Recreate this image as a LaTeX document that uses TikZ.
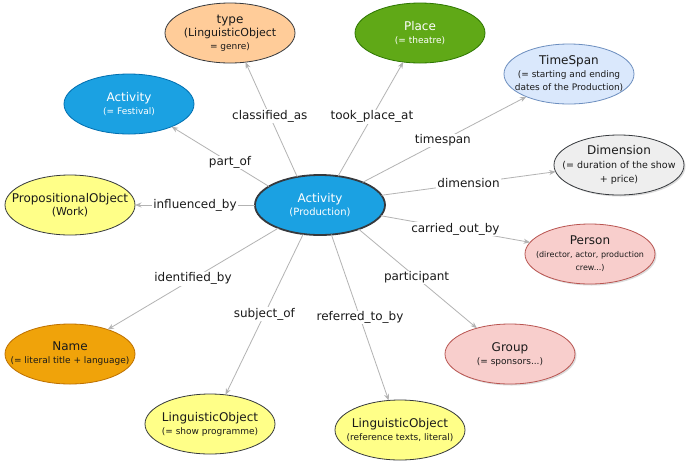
\documentclass[tikz,border=0pt]{standalone}
\usepackage{fontspec}
\setmainfont{DejaVu Sans}
\usetikzlibrary{shapes.geometric,arrows.meta,shadows}

\definecolor{edgegray}{HTML}{B3B3B3}
\definecolor{darkline}{HTML}{36393D}
\definecolor{peach}{HTML}{FFCC99}
\definecolor{grassfill}{HTML}{60A917}
\definecolor{grassline}{HTML}{2D7600}
\definecolor{skyfill}{HTML}{DAE8FC}
\definecolor{skyline}{HTML}{6C8EBF}
\definecolor{greyfill}{HTML}{EEEEEE}
\definecolor{bluefill}{HTML}{1BA1E2}
\definecolor{blueline}{HTML}{006EAF}
\definecolor{lemon}{HTML}{FFFF88}
\definecolor{rosefill}{HTML}{F8CECC}
\definecolor{roseline}{HTML}{B85450}
\definecolor{amberfill}{HTML}{F0A30A}
\definecolor{amberline}{HTML}{BD7000}
\definecolor{ink}{HTML}{1A1A1A}

\newcommand\hd{\fontsize{12}{14}\selectfont}
\newcommand\md{\fontsize{11}{13}\selectfont}
\newcommand\sm{\fontsize{9}{13}\selectfont}
\newcommand\xs{\fontsize{8}{13}\selectfont}

\tikzset{
  ent/.style={ellipse, draw=darkline, minimum width=130pt, minimum height=60pt,
    inner sep=0pt, outer sep=0pt, line width=0.8pt},
  shade/.style={drop shadow={shadow xshift=1.5pt, shadow yshift=-1.5pt, opacity=0.14, fill=black}},
  tx/.style={align=center, inner sep=0pt, text=ink, font=\sm},
  wtx/.style={tx, text=white},
  rel/.style={draw=edgegray, line width=0.8pt, -{Stealth[length=6.5pt,width=5pt]}},
  rlab/.style={fill=white, inner sep=1pt, text=ink, font=\hd},
}

\begin{document}
\begin{tikzpicture}[x=1pt, y=-1pt]
\useasboundingbox[fill=white] (0,0) rectangle (691,467);

% entity ellipses
\node[ent, fill=bluefill, draw=darkline, line width=1.8pt] (C) at (320,205) {};
\node[ent, fill=peach] (type) at (230,33) {};
\node[ent, fill=grassfill, draw=grassline] (place) at (420,33) {};
\node[ent, fill=skyfill, draw=skyline] (time) at (569,74) {};
\node[ent, fill=greyfill, shade] (dim) at (619,165) {};
\node[ent, fill=bluefill, draw=blueline] (fest) at (129,104) {};
\node[ent, fill=lemon] (work) at (70,205) {};
\node[ent, fill=rosefill, draw=roseline, shade] (person) at (590,254) {};
\node[ent, fill=rosefill, draw=roseline, shade] (group) at (510,354) {};
\node[ent, fill=amberfill, draw=amberline] (name) at (70,354) {};
\node[ent, fill=lemon] (prog) at (210,424) {};
\node[ent, fill=lemon] (refs) at (400,430) {};

% entity texts
\node[wtx] (Ct) at (C) {{\hd Activity}\\{\fontsize{10}{13}\selectfont (Production)}};
\node[tx] (typet) at (type) {{\hd type}\\{\md (LinguisticObject}\\{\sm = genre)}};
\node[wtx] (placet) at (place) {{\hd Place}\\{\sm (= theatre)}};
\node[tx] (timet) at (time) {{\hd TimeSpan}\\(= starting and ending\\dates of the Production)};
\node[tx, font=\fontsize{9.5}{14}\selectfont] (dimt) at (dim) {{\hd Dimension}\\(= duration of the show\\+ price)};
\node[wtx] (festt) at (fest) {{\hd Activity}\\{\sm (= Festival)}};
\node[tx] (workt) at (work) {{\hd PropositionalObject}\\{\md (Work)}};
\node[tx, font=\xs] (persont) at (person) {{\hd Person}\\(director, actor, production\\crew...)};
\node[tx] (groupt) at (group) {{\hd Group}\\(= sponsors...)};
\node[tx] (namet) at (name) {{\hd Name}\\(= literal title + language)};
\node[tx] (progt) at (prog) {{\hd LinguisticObject}\\(= show programme)};
\node[tx] (refst) at (refs) {{\hd LinguisticObject}\\(reference texts, literal)};

% relations
\draw[rel] (C.129) -- node[rlab, pos=.53] {classified\_as} (type.298);
\draw[rel] (C.58) -- node[rlab, pos=.52] {took\_place\_at} (place.240);
\draw[rel] (C.28) -- node[rlab, pos=.49] {timespan} (time.208);
\draw[rel] (C.9) -- node[rlab, pos=.5] {dimension} (dim.186);
\draw[rel] (C.-10) -- node[rlab, pos=.5] {carried\_out\_by} (person.169);
\draw[rel] (C.-32) -- node[rlab, pos=.49] {participant} (group.142);
\draw[rel] (C.-69) -- node[rlab, pos=.5] {referred\_to\_by} (refs.111);
\draw[rel] (C.240) -- node[rlab, pos=.5] {subject\_of} (prog.62);
\draw[rel] (C.209) -- node[rlab, pos=.5] {identified\_by} (name.33);
\draw[rel] (C.180) -- node[rlab, pos=.5] {influenced\_by} (work.0);
\draw[rel] (C.160) -- node[rlab, pos=.4] {part\_of} (fest.332);
\end{tikzpicture}
\end{document}
